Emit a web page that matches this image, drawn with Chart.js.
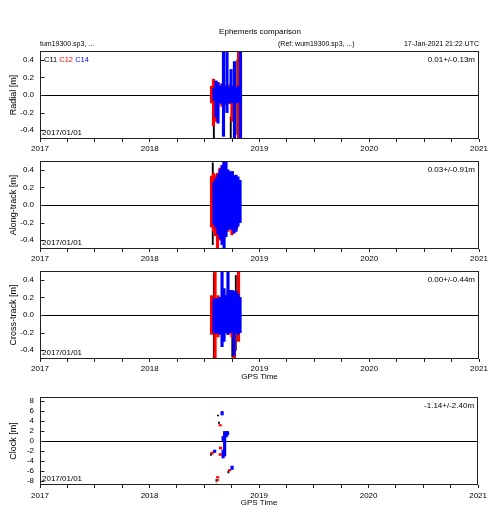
<!DOCTYPE html>
<html><head><meta charset="utf-8">
<script src="https://cdn.jsdelivr.net/npm/chart.js@4.4.0/dist/chart.umd.min.js"></script>
<style>
body{margin:0;background:#fff;width:490px;height:520px;position:relative;overflow:hidden;font-family:"Liberation Sans",Arial,sans-serif;color:#000;}
canvas{position:absolute;left:0;}
</style></head><body>
<canvas id="p1"></canvas>
<canvas id="p2"></canvas>
<canvas id="p3"></canvas>
<canvas id="p4"></canvas>
<script>
// ---------- text ----------
const chartTitle = 'Ephemeris comparison';
const fileLabel = 'tum19300.sp3, ...';
const refLabel = '(Ref: wum19300.sp3, ...)';
const dateLabel = '17-Jan-2021 21:22 UTC';
const startLabel = '2017/01/01';
const xTitle = 'GPS Time';
const seriesNames = ['C11', 'C12', 'C14'];
const panelTitles = ['Radial [m]', 'Along-track [m]', 'Cross-track [m]', 'Clock [m]'];
const panelStats = ['0.01+/-0.13m', '0.03+/-0.91m', '0.00+/-0.44m', '-1.14+/-2.40m'];
const yearTicks = [2017, 2018, 2019, 2020, 2021];
const orbitTicks = [-0.4, -0.2, 0.0, 0.2, 0.4];
const clockTicks = [-8, -6, -4, -2, 0, 2, 4, 6, 8];

// ---------- data: [decimal year, low, high] envelopes ----------
const radialC11 = [[2018.595,-0.52,-0.10],[2018.749,-0.52,-0.25],[2018.809,-0.45,0.40]];
const radialC12 = [[2018.563,-0.09,0.10],[2018.581,-0.35,0.18],[2018.599,-0.30,0.12],[2018.622,-0.12,0.14],[2018.658,-0.13,0.13],[2018.695,-0.11,0.11],[2018.731,-0.10,0.12],[2018.749,-0.30,0.10],[2018.777,-0.11,0.12],[2018.809,-0.52,0.52]];
const radialC14 = [[2018.563,-0.06,0.08],[2018.581,-0.25,0.16],[2018.599,-0.32,0.14],[2018.617,-0.09,0.10],[2018.636,-0.10,0.12],[2018.649,-0.47,0.52],[2018.663,-0.10,0.10],[2018.681,-0.20,0.52],[2018.699,-0.09,0.09],[2018.718,-0.09,0.29],[2018.731,-0.08,0.10],[2018.749,-0.52,0.38],[2018.768,-0.09,0.08],[2018.786,-0.08,0.10],[2018.804,-0.52,0.52]];

const alongC11 = [[2018.585,-0.45,0.48],[2018.768,-0.30,0.38],[2018.809,-0.26,0.30]];
const alongC12 = [[2018.563,-0.25,0.33],[2018.581,-0.30,0.36],[2018.599,-0.35,0.34],[2018.617,-0.50,0.36],[2018.640,-0.40,0.42],[2018.677,-0.38,0.52],[2018.713,-0.30,0.35],[2018.749,-0.34,0.32],[2018.786,-0.28,0.30],[2018.804,-0.15,0.22]];
const alongC14 = [[2018.563,-0.22,0.26],[2018.581,-0.26,0.30],[2018.599,-0.33,0.34],[2018.617,-0.38,0.40],[2018.636,-0.45,0.45],[2018.654,-0.50,0.52],[2018.672,-0.36,0.50],[2018.690,-0.28,0.40],[2018.708,-0.27,0.38],[2018.727,-0.28,0.38],[2018.745,-0.32,0.33],[2018.763,-0.30,0.34],[2018.781,-0.24,0.32],[2018.800,-0.20,0.28]];

const crossC11 = [[2018.595,-0.50,0.48],[2018.763,-0.48,-0.15],[2018.795,-0.40,0.45]];
const crossC12 = [[2018.563,-0.22,0.22],[2018.595,-0.50,0.50],[2018.622,-0.25,0.22],[2018.667,-0.28,0.25],[2018.713,-0.22,0.28],[2018.749,-0.25,0.28],[2018.772,-0.50,-0.10],[2018.809,-0.30,0.50]];
const crossC14 = [[2018.563,-0.20,0.18],[2018.581,-0.21,0.19],[2018.599,-0.20,0.18],[2018.617,-0.22,0.20],[2018.636,-0.36,0.50],[2018.654,-0.30,0.30],[2018.672,-0.20,0.22],[2018.690,-0.22,0.50],[2018.708,-0.20,0.28],[2018.727,-0.20,0.28],[2018.745,-0.46,0.27],[2018.763,-0.20,0.27],[2018.781,-0.22,0.24],[2018.800,-0.20,0.20]];

const clockC11 = [[2018.572,-2.9,-2.5],[2018.636,5.0,5.2],[2018.645,3.5,3.8],[2018.622,-8.1,-7.7],[2018.731,-6.4,-6.0],[2018.622,-8.9,-8.6]];
const clockC12 = [[2018.572,-2.6,-2.2],[2018.645,3.0,3.3],[2018.649,-1.6,-1.2],[2018.645,-2.9,-2.5],[2018.690,1.0,1.5],[2018.731,-6.0,-5.7],[2018.622,-7.4,-7.1],[2018.622,-7.9,-7.7]];
const clockC14 = [[2018.572,-2.3,-1.8],[2018.640,5.2,5.9],[2018.649,0.1,0.9],[2018.649,-3.4,-1.8],[2018.663,-3.0,1.9],[2018.677,0.8,1.9],[2018.690,1.2,1.9],[2018.731,-5.7,-5.0]];

// ---------- styles ----------
const seriesColors = ['#000000', '#ff0000', '#0000ff'];
const FONT = '"Liberation Sans", Arial, sans-serif';

const decor = {
  id: 'decor',
  afterDraw(chart) {
    const o = chart.options.plugins.decor;
    const {ctx, chartArea: a} = chart;
    const ys = chart.scales.y;
    const L = Math.round(a.left) + 0.5, T = Math.round(a.top) + 0.5;
    const R = Math.round(a.right) - 0.5, B = Math.round(a.bottom) - 0.5;
    ctx.save();
    ctx.strokeStyle = '#222'; ctx.lineWidth = 1;
    ctx.strokeRect(L, T, R - L, B - T);
    ys.ticks.forEach(t => {
      const y = Math.round(ys.getPixelForValue(t.value)) + 0.5;
      ctx.beginPath(); ctx.moveTo(L, y); ctx.lineTo(L + 4, y); ctx.stroke();
    });
    ctx.fillStyle = '#000';
    ctx.textBaseline = 'middle';
    ctx.font = '8px ' + FONT;
    ctx.textAlign = 'right';
    ctx.fillText(o.stat, a.right - 4, a.top + 8.5);
    ctx.textAlign = 'left';
    ctx.fillText(startLabel, a.left + 2, a.bottom - 6.5);
    if (o.legend) {
      ctx.font = '7.5px ' + FONT;
      let x = a.left + 4;
      seriesNames.forEach((n, i) => {
        ctx.fillStyle = seriesColors[i];
        ctx.fillText(n, x, a.top + 8.5);
        x += ctx.measureText(n + ' ').width;
      });
    }
    if (o.header) {
      ctx.fillStyle = '#000';
      ctx.font = '8px ' + FONT;
      ctx.textAlign = 'center';
      ctx.fillText(chartTitle, 260, 32);
      ctx.font = '7px ' + FONT;
      ctx.textAlign = 'left';
      ctx.fillText(fileLabel, a.left, a.top - 7);
      ctx.fillText(refLabel, 278, a.top - 7);
      ctx.textAlign = 'right';
      ctx.fillText(dateLabel, a.right, a.top - 7);
    }
    ctx.restore();
  }
};

function makePanel(id, top, padTop, xh, series, yTitle, stat, yLim, yTicks, yDec, showXTitle, tickPad, legend, header) {
  const cv = document.getElementById(id);
  const H = padTop + 88 + xh;
  cv.width = 490; cv.height = H;
  cv.style.width = '490px'; cv.style.height = H + 'px';
  cv.style.top = top + 'px';
  const axisIds = ['xk', 'xr', 'x'];
  const datasets = series.map((arr, i) => ({
    label: seriesNames[i],
    data: arr.map(d => ({x: d[0], y: [d[1], d[2]]})),
    backgroundColor: seriesColors[i],
    borderWidth: 0,
    barThickness: i === 0 ? 1.2 : 2.5,
    minBarLength: 1,
    xAxisID: axisIds[i],
    order: 3 - i
  }));
  const xBase = {type: 'linear', min: yearTicks[0], max: yearTicks[yearTicks.length - 1], offset: false};
  new Chart(cv, {
    type: 'bar',
    data: {datasets},
    plugins: [decor],
    options: {
      responsive: false, animation: false, devicePixelRatio: 1,
      layout: {padding: {left: 0, right: 11, top: padTop, bottom: 0}},
      plugins: {legend: {display: false}, tooltip: {enabled: false}, decor: {stat, legend, header}},
      scales: {
        x: Object.assign({}, xBase, {
          position: 'bottom',
          grid: {display: true, drawOnChartArea: false, drawTicks: true, tickLength: 3, color: '#222', offset: false},
          border: {display: false},
          ticks: {stepSize: 0.25, maxTicksLimit: 100, autoSkip: false, maxRotation: 0, padding: tickPad,
            font: {size: 8, family: FONT}, color: '#000',
            callback: v => yearTicks.includes(v) ? String(v) : ''},
          title: {display: showXTitle, text: xTitle, padding: 0, font: {size: 8, family: FONT}, color: '#000'},
          afterFit: s => { s.height = xh; }
        }),
        xr: Object.assign({}, xBase, {display: false}),
        xk: Object.assign({}, xBase, {display: false}),
        y: {
          type: 'linear', min: -yLim, max: yLim, position: 'left',
          grid: {drawOnChartArea: true, drawTicks: false, lineWidth: 1,
            color: c => (c.tick && Math.abs(c.tick.value) < 1e-9) ? '#000' : 'rgba(0,0,0,0)'},
          border: {display: false},
          afterBuildTicks: s => { s.ticks = yTicks.slice().map(v => ({value: v})); },
          ticks: {padding: 6, autoSkip: false,
            font: {size: 8, family: FONT}, color: '#000', callback: v => Number(v).toFixed(yDec)},
          title: {display: true, text: yTitle, padding: {top: 8, bottom: 0}, font: {size: 9, family: FONT}, color: '#000'},
          afterFit: s => { s.width = 40; }
        }
      }
    }
  });
}

makePanel('p1', 0, 51, 20, [radialC11, radialC12, radialC14], panelTitles[0], panelStats[0], 0.5, orbitTicks, 1, false, 2, true, true);
makePanel('p2', 150, 11, 20, [alongC11, alongC12, alongC14], panelTitles[1], panelStats[1], 0.5, orbitTicks, 1, false, 2, false, false);
makePanel('p3', 260, 11, 23, [crossC11, crossC12, crossC14], panelTitles[2], panelStats[2], 0.5, orbitTicks, 1, true, 2, false, false);
makePanel('p4', 386, 11, 23, [clockC11, clockC12, clockC14], panelTitles[3], panelStats[3], 8.8, clockTicks, 0, true, 3, false, false);
</script>
</body></html>
